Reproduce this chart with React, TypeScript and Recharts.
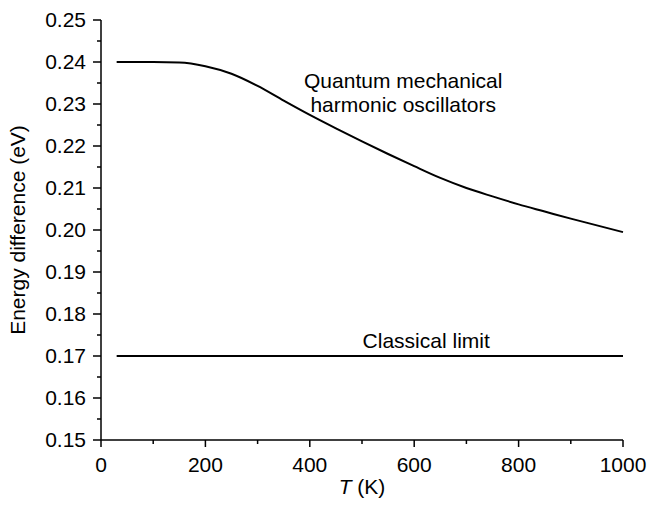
import React from "react";
import { LineChart, Line, XAxis, YAxis, ReferenceDot } from "recharts";

// temperatures (K) where the curves were read
const temps = [30, 50, 100, 150, 200, 250, 300, 350, 400, 450, 500, 550, 600, 650, 700, 750, 800, 850, 900, 950, 1000];
// energy difference for quantum mechanical harmonic oscillators (eV)
const quantum = [0.24, 0.24, 0.24, 0.2399, 0.239, 0.2372, 0.2343, 0.2308, 0.2274, 0.2242, 0.2211, 0.2181, 0.2152, 0.2124, 0.21, 0.208, 0.2061, 0.2044, 0.2027, 0.2011, 0.1995];
// classical limit (eV)
const classical = [0.17, 0.17, 0.17, 0.17, 0.17, 0.17, 0.17, 0.17, 0.17, 0.17, 0.17, 0.17, 0.17, 0.17, 0.17, 0.17, 0.17, 0.17, 0.17, 0.17, 0.17];

const xTicks = [0, 100, 200, 300, 400, 500, 600, 700, 800, 900, 1000];
const yTicks = [0.15, 0.155, 0.16, 0.165, 0.17, 0.175, 0.18, 0.185, 0.19, 0.195, 0.2, 0.205, 0.21, 0.215, 0.22, 0.225, 0.23, 0.235, 0.24, 0.245, 0.25];

const data = temps.map((t, i) => ({ t, quantum: quantum[i], classical: classical[i] }));

const FONT = "'Liberation Sans', Arial, Helvetica, sans-serif";
const FS = 21;

const XTick = (props: any) => {
  const { x, y, payload } = props;
  const major = payload.value % 200 === 0;
  return (
    <g>
      <line x1={x} x2={x} y1={y} y2={y + (major ? 7 : 4)} stroke="#000" strokeWidth={1.5} />
      {major && (
        <text x={x} y={y + 32} textAnchor="middle" fontSize={FS} fontFamily={FONT} fill="#000">
          {payload.value}
        </text>
      )}
    </g>
  );
};

const YTick = (props: any) => {
  const { x, y, payload } = props;
  const major = Math.round(payload.value * 1000) % 10 === 0;
  return (
    <g>
      <line x1={x - (major ? 8 : 4)} x2={x} y1={y} y2={y} stroke="#000" strokeWidth={1.5} />
      {major && (
        <text x={x - 15} y={y + 7} textAnchor="end" fontSize={FS} fontFamily={FONT} fill="#000">
          {payload.value.toFixed(2)}
        </text>
      )}
    </g>
  );
};

const YLabel = (props: any) => {
  const vb = props.viewBox;
  const cx = vb.x + 25;
  const cy = vb.y + vb.height / 2;
  return (
    <text x={cx} y={cy} transform={`rotate(-90 ${cx} ${cy})`} textAnchor="middle" fontSize={FS} fontFamily={FONT} fill="#000">
      Energy difference (eV)
    </text>
  );
};

const XLabel = (props: any) => {
  const vb = props.viewBox;
  const cx = vb.x + vb.width / 2;
  return (
    <text x={cx} y={vb.y + 54} textAnchor="middle" fontSize={FS} fontFamily={FONT} fill="#000">
      <tspan fontStyle="italic">T</tspan> (K)
    </text>
  );
};

const note = (label: string) => (p: any) => (
  <text x={p.cx} y={p.cy} textAnchor="middle" fontSize={FS} fontFamily={FONT} fill="#000">
    {label}
  </text>
);

export default function App() {
  return (
    <div style={{ position: "absolute", left: 0, top: 0, background: "#fff" }}>
      <LineChart width={647} height={505} data={data} margin={{ top: 20, right: 24, left: 0, bottom: 0 }}>
        <XAxis
          dataKey="t"
          type="number"
          domain={[0, 1000]}
          ticks={xTicks}
          interval={0}
          tickSize={0}
          tickMargin={0}
          tick={<XTick />}
          axisLine={{ stroke: "#000", strokeWidth: 1.5 }}
          height={65}
          label={<XLabel />}
        />
        <YAxis
          type="number"
          domain={[0.15, 0.25]}
          ticks={yTicks}
          interval={0}
          tickSize={0}
          tickMargin={0}
          tick={<YTick />}
          axisLine={{ stroke: "#000", strokeWidth: 1.5 }}
          width={101}
          label={<YLabel />}
        />
        <Line dataKey="quantum" type="monotone" stroke="#000" strokeWidth={2} dot={false} isAnimationActive={false} />
        <Line dataKey="classical" type="linear" stroke="#000" strokeWidth={2} dot={false} isAnimationActive={false} />
        <ReferenceDot x={579} y={0.2339} r={0} shape={note("Quantum mechanical")} />
        <ReferenceDot x={579} y={0.2282} r={0} shape={note("harmonic oscillators")} />
        <ReferenceDot x={623} y={0.172} r={0} shape={note("Classical limit")} />
      </LineChart>
    </div>
  );
}
